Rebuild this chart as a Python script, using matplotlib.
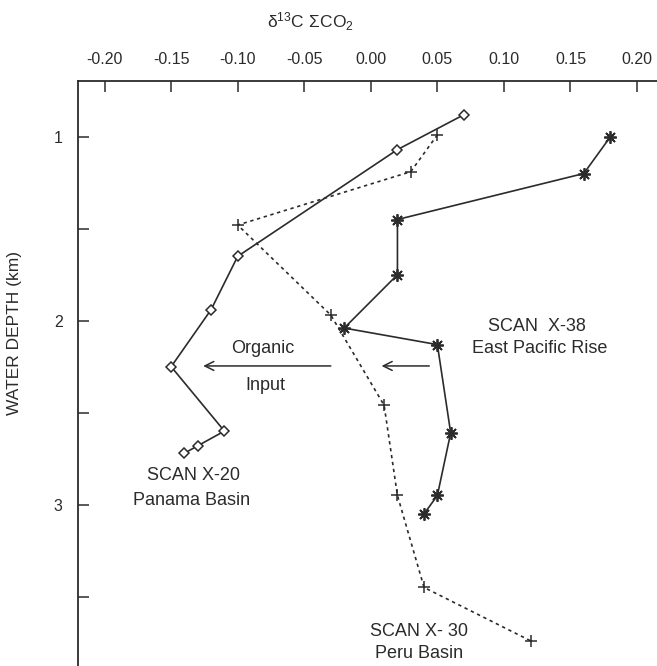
import matplotlib
matplotlib.use("Agg")
import matplotlib.pyplot as plt

plt.rcParams['font.family'] = ['Liberation Sans', 'DejaVu Sans']

# SCAN X-20, Panama Basin (diamonds, solid)
panama_d13c = [0.07, 0.02, -0.10, -0.12, -0.15, -0.11, -0.13, -0.14]
panama_depth = [0.88, 1.07, 1.65, 1.94, 2.25, 2.60, 2.68, 2.72]

# SCAN X-30, Peru Basin (plus, dotted)
peru_d13c = [0.05, 0.03, -0.10, -0.03, 0.01, 0.02, 0.04, 0.12]
peru_depth = [0.99, 1.19, 1.48, 1.97, 2.46, 2.95, 3.45, 3.74]

# SCAN X-38, East Pacific Rise (asterisks, solid)
epr_d13c = [0.18, 0.16, 0.02, 0.02, -0.02, 0.05, 0.06, 0.05, 0.04]
epr_depth = [1.00, 1.20, 1.45, 1.75, 2.04, 2.13, 2.61, 2.95, 3.05]

x_ticks = [-0.20, -0.15, -0.10, -0.05, 0.00, 0.05, 0.10, 0.15, 0.20]
y_ticks = [1, 1.5, 2, 2.5, 3, 3.5]
y_tick_labels = ['1', '', '2', '', '3', '']

ink = '#2b2b2b'

fig = plt.figure(figsize=(6.57, 6.66), dpi=100)
ax = fig.add_axes([0.1187, 0.0, 0.8813, 0.8784])

ax.plot(panama_d13c, panama_depth, color=ink, lw=1.2, marker='D', ms=5.5,
        mfc='white', mec=ink, mew=1.1)
ax.plot(peru_d13c, peru_depth, color=ink, lw=1.2, ls=(0, (2, 2.2)),
        marker='+', ms=9, mew=1.1)
ax.plot(epr_d13c, epr_depth, color=ink, lw=1.2, marker=(8, 2, 0), ms=9, mew=1.3)

# Organic input arrows
arrow = dict(arrowstyle='->', color=ink, lw=1.1, mutation_scale=16)
ax.annotate('', xy=(-0.128, 2.246), xytext=(-0.028, 2.246), arrowprops=arrow)
ax.annotate('', xy=(0.006, 2.246), xytext=(0.046, 2.246), arrowprops=arrow)

txt = dict(fontsize=13, color=ink, ha='center', va='center')
ax.text(-0.081, 2.15, 'Organic', **txt)
ax.text(-0.079, 2.35, 'Input', **txt)
ax.text(0.125, 2.03, 'SCAN  X-38', **txt)
ax.text(0.127, 2.15, 'East Pacific Rise', **txt)
ax.text(-0.133, 2.84, 'SCAN X-20', **txt)
ax.text(-0.135, 2.98, 'Panama Basin', **txt)
ax.text(0.036, 3.69, 'SCAN X- 30', **txt)
ax.text(0.036, 3.81, 'Peru Basin', **txt)

ax.set_xlim(-0.22, 0.215)
ax.set_ylim(3.877, 0.697)
ax.xaxis.tick_top()
ax.set_xticks(x_ticks)
ax.set_xticklabels(['%.2f' % v for v in x_ticks])
ax.set_yticks(y_ticks)
ax.set_yticklabels(y_tick_labels)
ax.tick_params(axis='both', direction='in', length=8, width=1.1, color=ink,
               labelsize=11.5, labelcolor=ink)
ax.tick_params(axis='x', pad=10)
ax.tick_params(axis='y', pad=11)

for side in ['right', 'bottom']:
    ax.spines[side].set_visible(False)
for side in ['top', 'left']:
    ax.spines[side].set_color(ink)
    ax.spines[side].set_linewidth(1.3)

fig.text(311 / 657, 1 - 22 / 666, r'$\mathregular{\delta^{13}C\ \Sigma CO_2}$',
         fontsize=12.5, color=ink, ha='center', va='center')
fig.text(15 / 657, 1 - 333 / 666, 'WATER DEPTH (km)', rotation=90,
         fontsize=12.5, color=ink, ha='center', va='center')

fig.savefig('out.png', dpi=100)
